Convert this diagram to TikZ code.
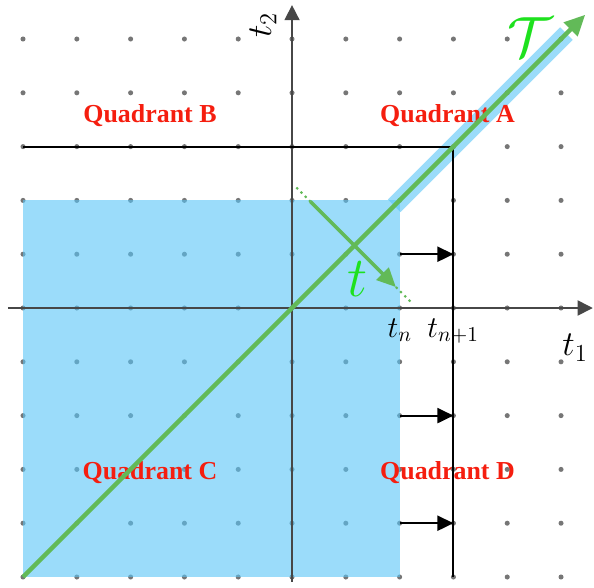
\documentclass[tikz,border=0pt]{standalone}
\usepackage{fix-cm}
\usepackage{fontspec}
\newfontfamily\qfont{Liberation Serif}
\usetikzlibrary{arrows.meta}
\definecolor{qred}{RGB}{245,30,15}
\definecolor{gline}{RGB}{98,186,88}
\definecolor{glabel}{RGB}{30,225,30}
\definecolor{bfill}{RGB}{88,197,247}
\definecolor{dotc}{RGB}{118,118,118}
\begin{document}
\begin{tikzpicture}[x=1cm,y=1cm,
  quad/.style={font=\qfont\bfseries\fontsize{13.7}{15}\selectfont, text=qred, inner sep=0pt, anchor=base},
  axisline/.style={draw=black!72, line width=0.8pt, -{Triangle[length=8pt,width=8pt]}},
  bline/.style={draw=black, line width=1.1pt},
  sarrow/.style={draw=black, line width=1pt, -{Triangle[length=8.5pt,width=8pt]}},
  gdot/.style={fill=dotc},
  blueregion/.style={fill=bfill, fill opacity=0.6},
  gmain/.style={draw=gline, line width=2.3pt},
  gdotted/.style={draw=gline, line width=1.1pt, dash pattern=on 1.2pt off 2pt},
  axlabel/.style={font=\fontsize{18.5}{20}\selectfont, inner sep=0pt},
  tlabel/.style={font=\fontsize{16}{18}\selectfont, inner sep=0pt, anchor=base west},
  glab/.style={text=glabel, inner sep=0pt, font=\fontsize{30}{32}\selectfont}
]
\useasboundingbox (-5.428,-5.186) rectangle (5.613,5.725);

% dots inside the blue region (under the blue)
\foreach \i in {-5,...,2}{\foreach \j in {-5,...,2}{
  \fill[gdot] (\i,\j) circle (0.047);
}}

% blue rectangle and band
\coordinate (rbl) at (-5,-5);
\coordinate (rtr) at (2,2);
\fill[blueregion] (rbl) rectangle (rtr);
\coordinate (bandA) at (1.9,1.9);
\coordinate (bandB) at (5.1,5.1);
\draw[draw=bfill, draw opacity=0.6, line width=9.4pt, line cap=butt] (bandA) -- (bandB);

% quadrant labels
\node[quad] (qa) at (2.89,3.45) {Quadrant A};
\node[quad] (qb) at (-2.64,3.45) {Quadrant B};
\node[quad] (qc) at (-2.64,-3.18) {Quadrant C};
\node[quad] (qd) at (2.89,-3.18) {Quadrant D};

% dots outside the blue region
\foreach \i in {-5,...,5}{\foreach \j in {-5,...,5}{
  \pgfmathtruncatemacro{\inside}{(\i<3)&&(\j<3)}
  \ifnum\inside=0
    \fill[gdot] (\i,\j) circle (0.047);
  \fi
}}

% axes
\coordinate (xl) at (-5.28,0);
\coordinate (xr) at (5.59,0);
\coordinate (yb) at (0,-5.09);
\coordinate (yt) at (0,5.63);
\draw[axisline] (xl) -- (xr);
\draw[axisline] (yb) -- (yt);

% black boundary lines
\coordinate (hL) at (-5,3);
\coordinate (cR) at (3,3);
\coordinate (vB) at (3,-5);
\draw[bline] (hL) -- (cR) -- (vB);

% small arrows
\coordinate (a1s) at (2,1);  \coordinate (a1e) at (3,1);
\coordinate (a2s) at (2,-2); \coordinate (a2e) at (3,-2);
\coordinate (a3s) at (2,-4); \coordinate (a3e) at (3,-4);
\draw[sarrow] (a1s) -- (a1e);
\draw[sarrow] (a2s) -- (a2e);
\draw[sarrow] (a3s) -- (a3e);

% green diagonal
\coordinate (dS) at (-5,-5);
\coordinate (dE) at (5.45,5.45);
\draw[gmain, -{Triangle[length=11pt,width=10pt]}] (dS) -- (dE);

% green t arrow
\coordinate (p0) at (0.08,2.24);
\coordinate (p1) at (0.34,1.98);
\coordinate (p2) at (1.93,0.39);
\coordinate (p3) at (2.2,0.12);
\draw[gdotted] (p0) -- (p1);
\draw[draw=gline, line width=1.9pt, -{Triangle[length=10pt,width=9pt]}] (p1) -- (p2);
\draw[gdotted] (p2) -- (p3);

% labels
\node[glab] (T) at (4.42,5.03) {$\mathcal{T}$};
\node[glab] (tl) at (1.21,0.54) {$t$};
\node[tlabel] (tn) at (1.77,-0.54) {$t_n$};
\node[tlabel] (tn1) at (2.51,-0.54) {$t_{n+1}$};
\node[axlabel, anchor=base west] (t1) at (5.02,-0.89) {$t_1$};
\node[axlabel, rotate=90] (t2) at (-0.54,5.26) {$t_2$};
\end{tikzpicture}
\end{document}
